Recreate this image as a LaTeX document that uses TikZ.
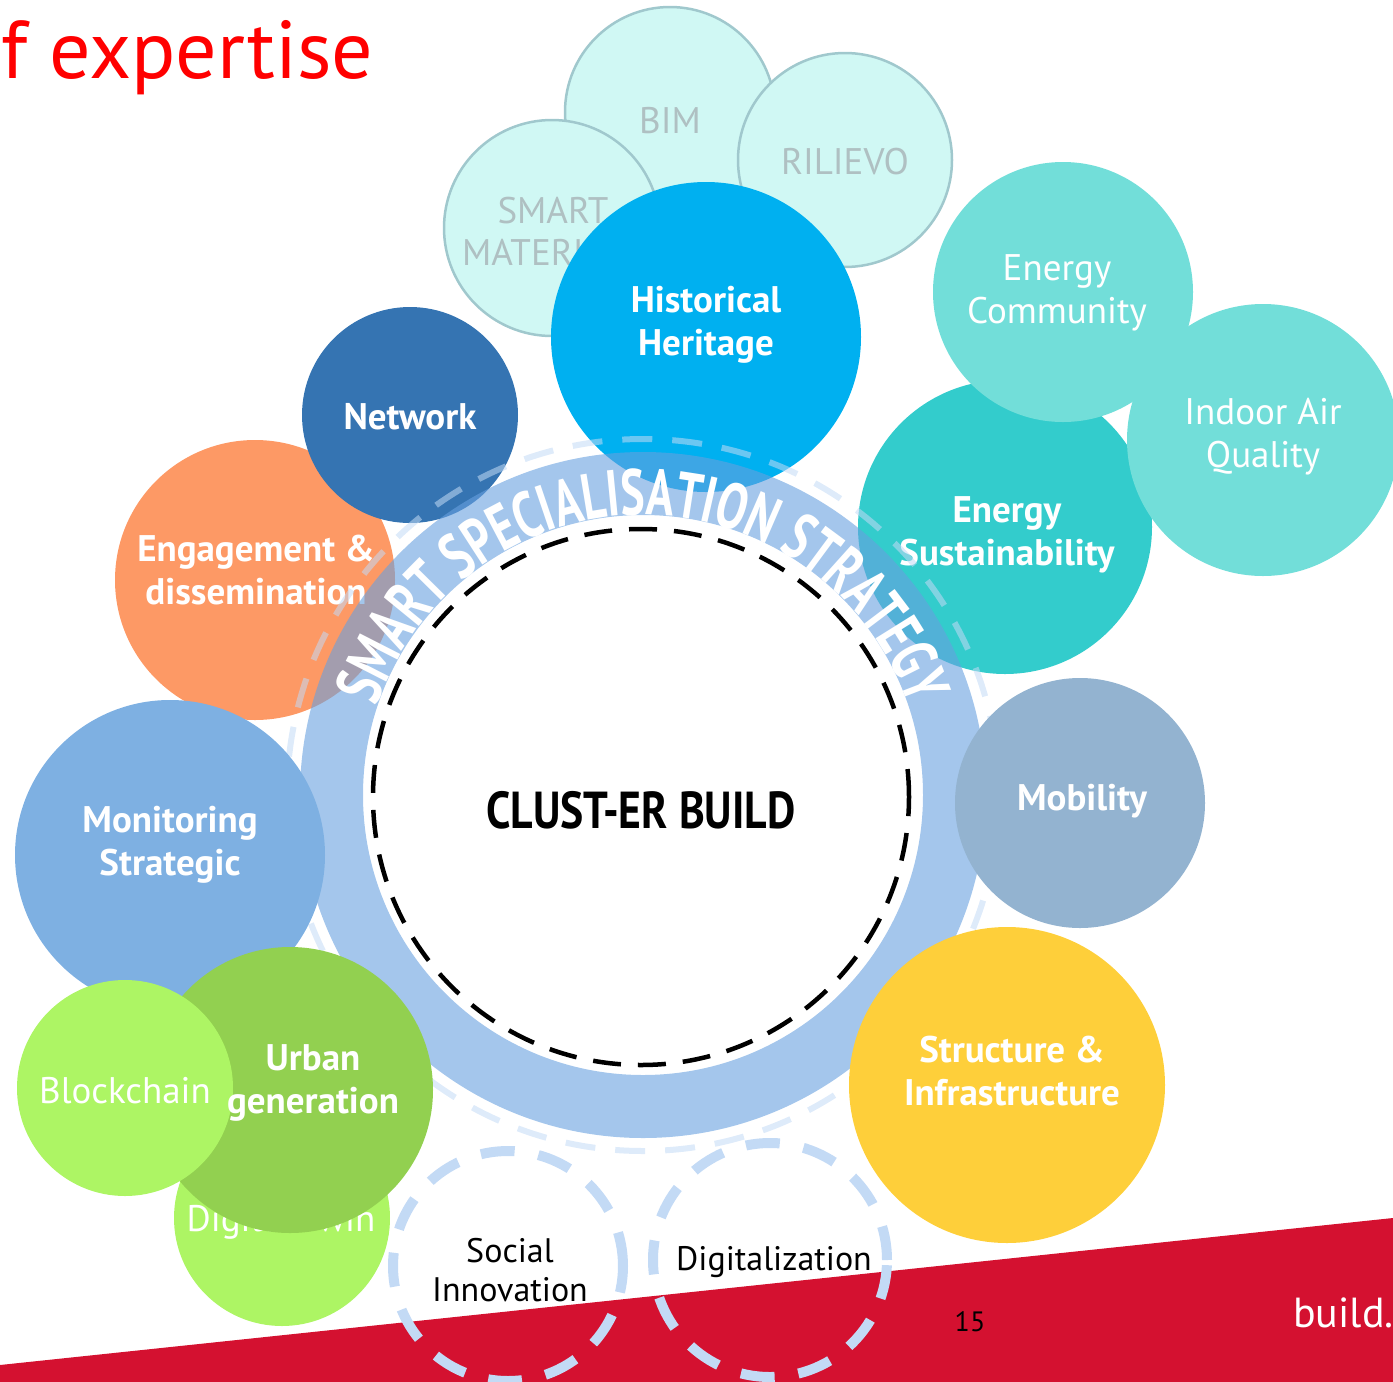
\documentclass[tikz,border=0pt]{standalone}
\usepackage{fontspec}
\setmainfont{PT Sans}
\newfontfamily\clustfont[FakeStretch=0.84]{PT Sans}
\newfontfamily\arcfont[FakeStretch=0.7]{PT Sans}
\usetikzlibrary{decorations.text}
\definecolor{aquaL}{RGB}{208,248,244}
\definecolor{aquaE}{RGB}{160,200,205}
\definecolor{aquaT}{RGB}{175,192,194}
\definecolor{hhblue}{RGB}{0,176,240}
\definecolor{netblue}{RGB}{53,116,178}
\definecolor{engor}{RGB}{253,153,101}
\definecolor{monblue}{RGB}{126,176,226}
\definecolor{urbgreen}{RGB}{146,208,80}
\definecolor{ltgreen}{RGB}{173,245,100}
\definecolor{tealL}{RGB}{114,222,217}
\definecolor{tealD}{RGB}{51,204,204}
\definecolor{mobgrey}{RGB}{147,179,208}
\definecolor{strucy}{RGB}{254,207,58}
\definecolor{ringc}{RGB}{103,160,223}
\definecolor{dashl}{RGB}{195,218,245}
\definecolor{bandred}{RGB}{212,17,48}
\definecolor{titred}{RGB}{255,0,0}
\tikzset{
  bubble/.style={circle, inner sep=0pt, minimum size=#1},
  light/.style={fill=aquaL, draw=aquaE, line width=2.5pt},
  lblb/.style={align=center, inner sep=0pt, text=white, font=\fontsize{37}{43}\selectfont\bfseries},
  lblr/.style={align=center, inner sep=0pt, text=white, font=\fontsize{37}{43}\selectfont},
  lbll/.style={align=center, inner sep=0pt, text=aquaT, font=\fontsize{37}{42}\selectfont},
  lbld/.style={align=center, inner sep=0pt, text=black, font=\fontsize{34}{39}\selectfont},
  ghost/.style={draw=dashl, line width=10pt, dash pattern=on 34pt off 24pt}
}
\begin{document}
\begin{tikzpicture}[x=1pt,y=1pt]
\useasboundingbox (0,0) rectangle (1393,-1382);
% red band
\fill[bandred] (0,-1365) -- (1393,-1218) -- (1393,-1382) -- (0,-1382) -- cycle;
% light aqua bubbles
\node[bubble=210, light] (bim) at (670,-112) {};
\node[lbll] (bimT) at (670,-121) {BIM};
\node[bubble=214, light] (ril) at (845,-160) {};
\node[lbll] (rilT) at (845,-162) {RILIEVO};
\node[bubble=216, light] (sma) at (552,-228) {};
\node[lbll] (smaT) at (553,-232) {SMART\\MATERIALS};
\node[bubble=310, fill=hhblue] (hh) at (706,-337) {};
\node[lblb] (hhT) at (706,-325) {Historical\\Heritage};
% energy group
\node[bubble=294, fill=tealD] (es) at (1005,-527) {};
\node[lblb] (esT) at (1007,-535) {Energy\\Sustainability};
\node[bubble=260, fill=tealL] (ec) at (1063,-292) {};
\node[lblr] (ecT) at (1057,-293) {Energy\\Community};
\node[bubble=272, fill=tealL] (iaq) at (1263,-440) {};
\node[lblr] (iaqT) at (1263,-437) {Indoor Air\\Quality};
% left group
\node[bubble=280, fill=engor] (eng) at (255,-580) {};
\node[lblb] (engT) at (256,-570) {Engagement \&\\dissemination};
\node[bubble=216, fill=netblue] (net) at (410,-415) {};
\node[lblb] (netT) at (410,-417) {Network};
% ring
\coordinate (rc) at (643,-795);
\fill[ringc, fill opacity=0.6, even odd rule] (rc) circle[radius=343] (rc) circle[radius=280];
\draw[dashl, opacity=0.55, line width=6pt, dash pattern=on 30pt off 20pt] (rc) circle[radius=356];
\path[decorate, decoration={text along path, text align=center, text color=white,
  text={|\arcfont\fontsize{65}{65}\selectfont\bfseries|SMART SPECIALISATION STRATEGY}}]
  ([shift={(178:280)}]rc) arc[start angle=178, end angle=2, radius=280];
% lower left group
\node[bubble=310, fill=monblue] (mon) at (170,-855) {};
\node[lblb] (monT) at (170,-845) {Monitoring\\Strategic};
\node[bubble=216, fill=ltgreen] (dt) at (282,-1218) {};
\node[lblr] (dtT) at (281,-1222) {Digital Twin};
\node[bubble=286, fill=urbgreen] (urb) at (290,-1090) {};
\node[bubble=216, fill=ltgreen] (blk) at (125,-1088) {};
\node[lblr] (blkT) at (125,-1091) {Blockchain};
\node[lblb] (urbT) at (313,-1083) {Urban\\generation};
% right group
\node[bubble=250, fill=mobgrey] (mob) at (1080,-803) {};
\node[lblb] (mobT) at (1082,-801) {Mobility};
\node[bubble=316, fill=strucy] (str) at (1007,-1085) {};
\node[lblb] (strT) at (1012,-1071) {Structure \&\\Infrastructure};
% core
\draw[black, line width=4.5pt, dash pattern=on 28pt off 17pt] (641,-797) circle[radius=268];
\node[inner sep=0pt, font=\clustfont\fontsize{52}{52}\selectfont\bfseries] (core) at (641,-810) {CLUST-ER BUILD};
% dashed lower circles
\draw[ghost] (508,-1266) circle[radius=115];
\node[lbld] (soc) at (510,-1270) {Social\\Innovation};
\draw[ghost] (770,-1260) circle[radius=117];
\node[lbld] (dig) at (774,-1262) {Digitalization};
% title and footer
\node[anchor=base west, inner sep=0pt, text=titred, font=\fontsize{82}{82}\selectfont] (title) at (1,-78) {f expertise};
\node[inner sep=0pt, font=\fontsize{28}{28}\selectfont] (pg) at (970,-1322) {15};
\node[anchor=base west, inner sep=0pt, text=white, font=\fontsize{42}{42}\selectfont] (bld) at (1293,-1327) {build.};
\end{tikzpicture}
\end{document}
